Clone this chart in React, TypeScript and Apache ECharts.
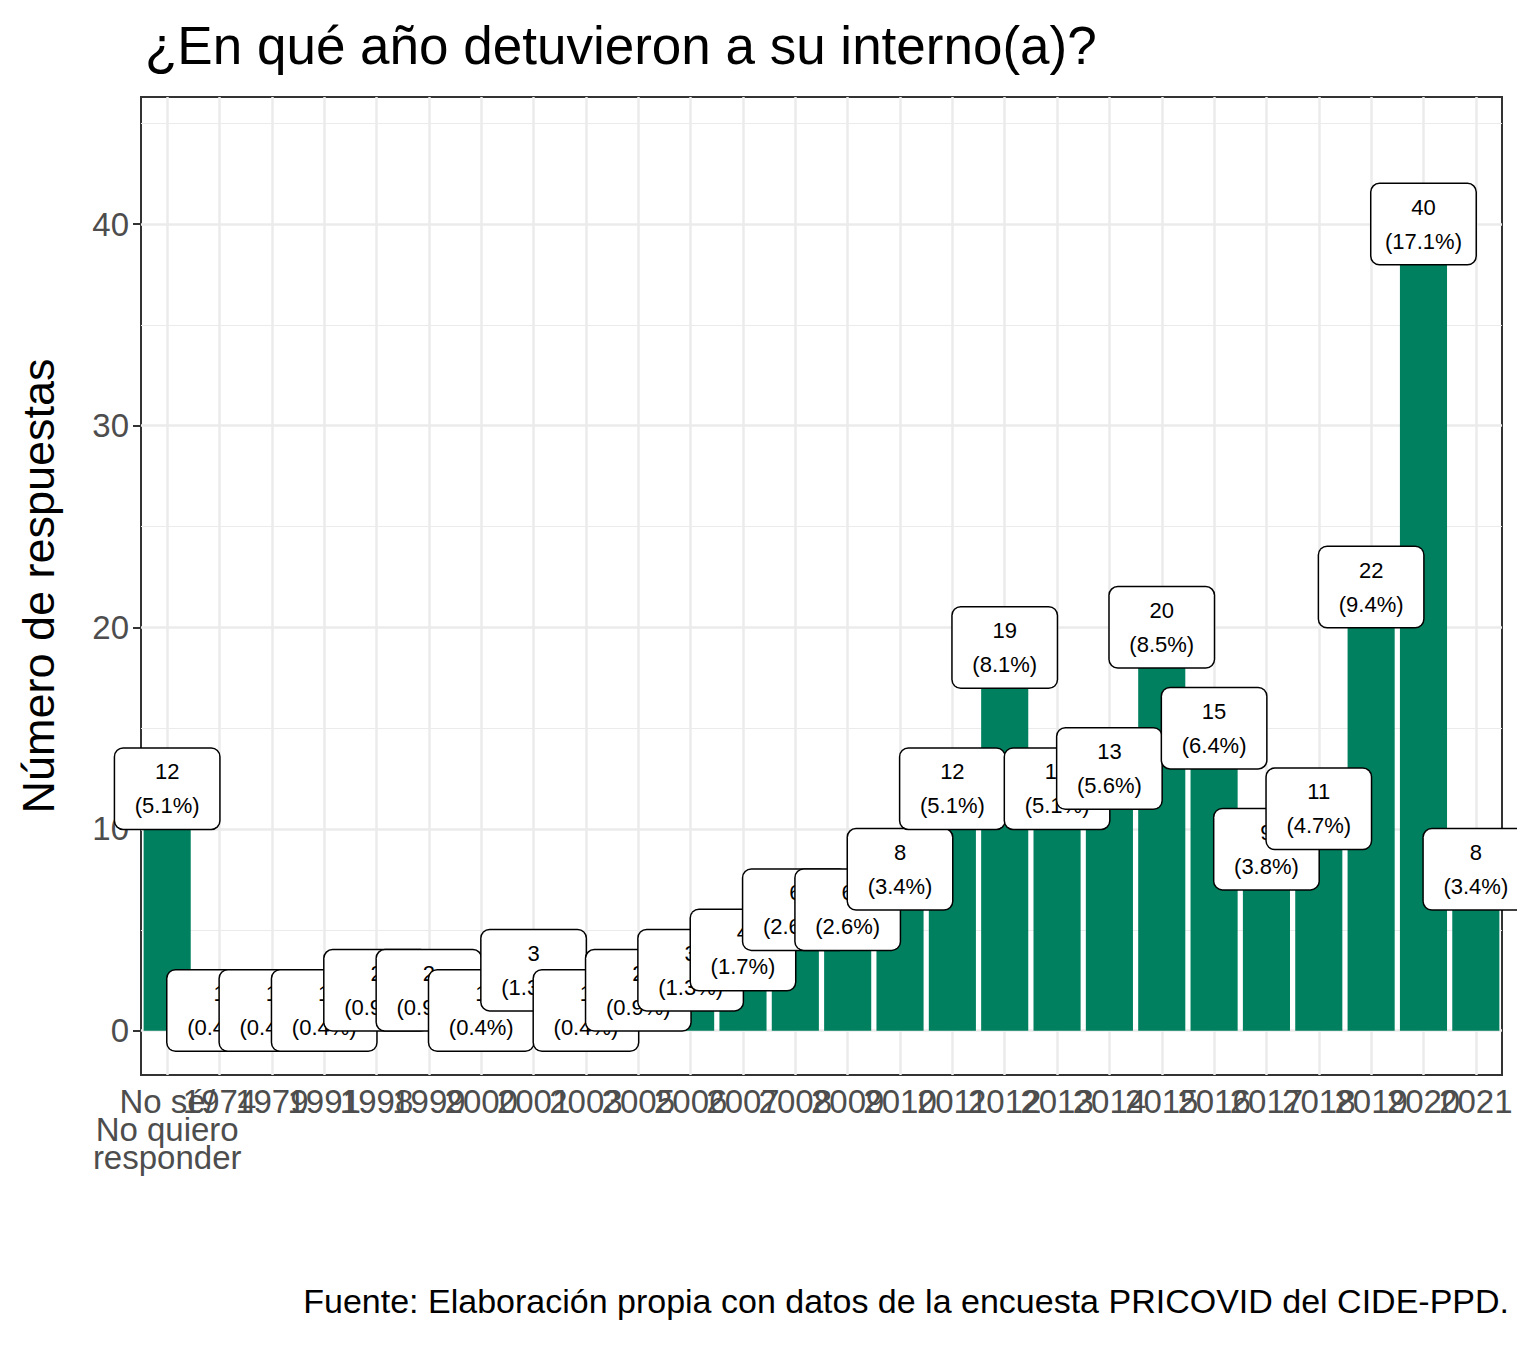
import { useEffect, useRef } from 'react'
import * as echarts from 'echarts'

// categorías y conteos
const categories = [
  'No sé/\nNo quiero\nresponder', '1974', '1979', '1991', '1998', '1999', '2000', '2001', '2003',
  '2005', '2006', '2007', '2008', '2009', '2010', '2011', '2012', '2013', '2014', '2015',
  '2016', '2017', '2018', '2019', '2020', '2021'
]
const counts = [12, 1, 1, 1, 2, 2, 1, 3, 1, 2, 3, 4, 6, 6, 8, 12, 19, 12, 13, 20, 15, 9, 11, 22, 40, 8]
const majorTicks = [0, 10, 20, 30, 40]
const minorTicks = [5, 15, 25, 35, 45]

const total = counts.reduce((a, b) => a + b, 0)

export default function App() {
  const ref = useRef<HTMLDivElement>(null)

  useEffect(() => {
    if (!ref.current) return
    const chart = echarts.init(ref.current, null, { renderer: 'svg' })
    const grid = (w: number) => ({ color: '#ebebeb', width: w, type: 'solid' as const })
    chart.setOption({
      animation: false,
      textStyle: { fontFamily: 'Liberation Sans, Arial, sans-serif' },
      title: {
        text: '¿En qué año detuvieron a su interno(a)?',
        left: 132, top: 6,
        textStyle: { fontSize: 53, fontWeight: 'normal', color: '#000' }
      },
      graphic: [{
        type: 'text', right: 8, top: 1276,
        style: { text: 'Fuente: Elaboración propia con datos de la encuesta PRICOVID del CIDE-PPD.', fontSize: 34, fill: '#000', fontFamily: 'Liberation Sans, Arial' }
      }],
      grid: { left: 132, right: 15, top: 89, bottom: 263, show: true, borderColor: '#333', borderWidth: 2, backgroundColor: '#fff' },
      xAxis: {
        type: 'category', data: categories,
        axisLine: { show: false },
        axisTick: { alignWithLabel: true, length: 8, lineStyle: { color: '#333', width: 2 } },
        axisLabel: { interval: 0, fontSize: 33, color: '#4d4d4d', margin: 12, lineHeight: 28 },
        splitLine: { show: false }
      },
      yAxis: {
        type: 'value', min: -2.2, max: 46.3,
        name: 'Número de respuestas', nameLocation: 'middle', nameGap: 80,
        nameTextStyle: { fontSize: 45, color: '#000' },
        axisLine: { show: false },
        axisTick: { show: true, customValues: majorTicks, length: 8, lineStyle: { color: '#333', width: 2 } },
        axisLabel: { customValues: majorTicks, fontSize: 33, color: '#4d4d4d', margin: 12 },
        splitLine: { show: false }
      },
      series: [{
        type: 'bar', data: counts, barCategoryGap: '10%',
        itemStyle: { color: '#00805F' },
        markLine: {
          silent: true, symbol: 'none', label: { show: false }, z: 0,
          data: [
            ...minorTicks.map(v => ({ yAxis: v, lineStyle: grid(1.2) })),
            ...majorTicks.map(v => ({ yAxis: v, lineStyle: grid(2.5) })),
            ...categories.map(c => ({ xAxis: c, lineStyle: grid(2.5) }))
          ]
        },
        z: 2,
        label: {
          show: true, position: 'top', distance: -40,
          formatter: (p: any) => `${p.value}\n(${(p.value / total * 100).toFixed(1)}%)`,
          fontSize: 22, color: '#000', lineHeight: 34, align: 'center',
          backgroundColor: '#fff', borderColor: '#000', borderWidth: 1.5, borderRadius: 8,
          padding: [6, 14, 6, 14], width: 76
        }
      }]
    })
    return () => chart.dispose()
  }, [])

  return <div ref={ref} style={{ width: 1509, height: 1330 }} />
}
